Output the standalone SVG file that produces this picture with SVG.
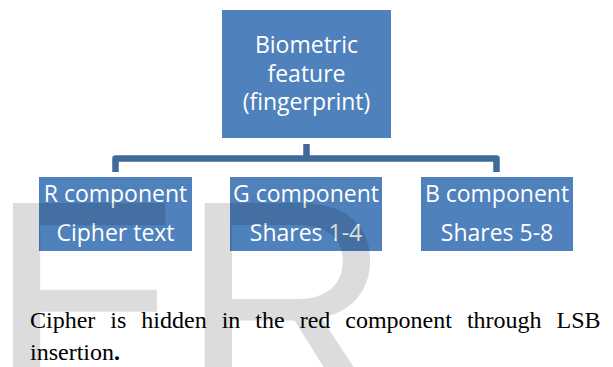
<svg xmlns="http://www.w3.org/2000/svg" width="613" height="367" viewBox="0 0 613 367">
  <style>
    .box { fill: #4F81BD; }
    .lbl { font-family: "Open Sans", "Noto Sans", sans-serif; font-size: 23px; fill: #FFFFFF; text-anchor: middle; }
    .wire { fill: none; stroke: #3F6A99; stroke-width: 6.5; stroke-linejoin: round; }
    .cap { font-family: "Liberation Serif", "Times New Roman", serif; font-size: 24px; fill: #000000; }
    .mark { font-family: "Liberation Sans", Arial, sans-serif; font-size: 292px; fill: #000000; fill-opacity: 0.137; }
  </style>
  <rect width="613" height="367" fill="#FFFFFF"/>

  <!-- connectors -->
  <g id="connectors">
    <path class="wire" d="M306.5,144 V158.5"/>
    <path class="wire" d="M115.5,172 V158.5 H496.5 V172"/>
  </g>

  <!-- root node -->
  <g id="biometric">
    <rect class="box" x="222" y="10" width="169" height="128"/>
    <text class="lbl" x="306.5" y="53">Biometric</text>
    <text class="lbl" x="306.5" y="82">feature</text>
    <text class="lbl" x="306.5" y="110">(fingerprint)</text>
  </g>

  <!-- channel nodes -->
  <g id="r-component">
    <rect class="box" x="39" y="177" width="153" height="74"/>
    <text class="lbl" x="115.5" y="202">R component</text>
    <text class="lbl" x="115.5" y="241">Cipher text</text>
  </g>
  <g id="g-component">
    <rect class="box" x="230" y="177" width="152" height="74"/>
    <text class="lbl" x="306" y="202">G component</text>
    <text class="lbl" x="306" y="241">Shares 1-4</text>
  </g>
  <g id="b-component">
    <rect class="box" x="421" y="177" width="152" height="74"/>
    <text class="lbl" x="497" y="202">B component</text>
    <text class="lbl" x="497" y="241">Shares 5-8</text>
  </g>

  <!-- caption, first line justified to the column width -->
  <g id="caption">
    <text class="cap" x="30" y="328" word-spacing="9">Cipher is hidden in the red component through LSB</text>
    <text class="cap" x="30" y="360">insertion<tspan font-weight="bold">.</tspan></text>
  </g>

  <!-- watermark letters laid over the page -->
  <g id="watermark">
    <text class="mark" x="-11" y="404" letter-spacing="-3">ER</text>
  </g>
</svg>
